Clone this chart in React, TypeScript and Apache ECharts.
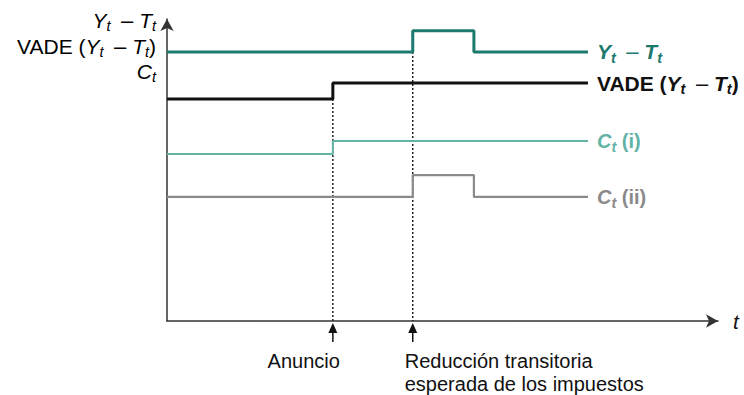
import React, { useEffect, useRef } from 'react';
import * as echarts from 'echarts';

const FONT = '"Liberation Sans", Arial, Helvetica, sans-serif';

// Time of events (x, 0..100)
const announceTime = 30.1;
const cutStartTime = 44.6;
const cutEndTime = 55.7;
const lastTime = 76.4;

// Levels (y, 0..100)
const disposableX = [0, cutStartTime, cutStartTime, cutEndTime, cutEndTime, lastTime];
const disposableY = [89.1, 89.1, 96.1, 96.1, 89.1, 89.1];
const vadeX = [0, announceTime, announceTime, lastTime];
const vadeY = [73.5, 73.5, 78.8, 78.8];
const consumoIX = [0, announceTime, announceTime, lastTime];
const consumoIY = [55.3, 55.3, 59.6, 59.6];
const consumoIIX = [0, cutStartTime, cutStartTime, cutEndTime, cutEndTime, lastTime];
const consumoIIY = [41.1, 41.1, 48.3, 48.3, 41.1, 41.1];

const guideX = [announceTime, cutStartTime];
const guideTopY = [73.5, 89.1];

const eventLabels = ['Anuncio', 'Reducción transitoria\nesperada de los impuestos'];

const NB = '\u00a0';
const EN = '\u2002';

const COLORS = {
  disposable: '#1c796d',
  vade: '#111111',
  cI: '#63b3a7',
  cII: '#8a8a8a',
  axis: '#333333',
};

function rich(weight: string, color: string, size: number) {
  const n = { fontFamily: FONT, fontSize: size, fontWeight: weight, color, lineHeight: 26 };
  return {
    n,
    i: { ...n, fontStyle: 'italic' },
    m: { ...n, fontSize: size + 1, fontWeight: 'normal' },
    s: {
      fontFamily: FONT,
      fontSize: 14.5,
      fontStyle: 'italic',
      fontWeight: weight,
      color,
      lineHeight: 14,
      padding: [12, 0, 0, 0],
    },
  };
}

const MINUS = `{n|${EN}}{m|–}{n|${NB}}`;
const txtYT = `{i|Y}{s|t}${MINUS}{i|T}{s|t}`;
const txtVADE = `{n|VADE${NB}(}{i|Y}{s|t}${MINUS}{i|T}{s|t}{n|)}`;
const txtC = `{i|C}{s|t}`;

function pairs(xs: number[], ys: number[]) {
  return xs.map((x, k) => [x, ys[k]]);
}

function stepSeries(
  xs: number[],
  ys: number[],
  color: string,
  width: number,
  label: string,
  size: number
) {
  return {
    type: 'line',
    data: pairs(xs, ys),
    showSymbol: false,
    symbol: 'none',
    silent: true,
    z: 5,
    lineStyle: { color, width },
    endLabel: {
      show: true,
      distance: 9,
      formatter: () => label,
      rich: rich('bold', color, size),
    },
  };
}

export default function App() {
  const ref = useRef<HTMLDivElement>(null);
  useEffect(() => {
    const chart = echarts.init(ref.current!, null, { renderer: 'svg' });
    const axisCommon = {
      type: 'value',
      min: 0,
      max: 100,
      axisLine: {
        show: true,
        symbol: ['none', 'arrow'],
        symbolSize: [10, 12],
        lineStyle: { color: COLORS.axis, width: 1.5 },
      },
      axisTick: { show: false },
      axisLabel: { show: false },
      splitLine: { show: false },
    };
    const guideSeries = guideX.map((x, k) => ({
      type: 'line',
      data: [
        [x, guideTopY[k]],
        [x, 0],
      ],
      showSymbol: false,
      symbol: 'none',
      silent: true,
      z: 2,
      lineStyle: { color: '#222', width: 1.5, type: [2, 2] },
    }));
    chart.setOption({
      animation: false,
      grid: { left: 167, right: 26, top: 19, bottom: 74 },
      xAxis: {
        ...axisCommon,
        name: 't',
        nameLocation: 'end',
        nameGap: 15,
        nameTextStyle: { fontFamily: FONT, fontSize: 21, fontStyle: 'italic', color: '#111' },
      },
      yAxis: { ...axisCommon },
      series: [
        ...guideSeries,
        stepSeries(disposableX, disposableY, COLORS.disposable, 3, txtYT, 21),
        stepSeries(vadeX, vadeY, COLORS.vade, 3, txtVADE, 21),
        stepSeries(consumoIX, consumoIY, COLORS.cI, 2, `${txtC}{n|${NB}(i)}`, 20),
        stepSeries(consumoIIX, consumoIIY, COLORS.cII, 2.2, `${txtC}{n|${NB}(ii)}`, 20),
      ],
    });

    const axisY = (chart.convertToPixel({ gridIndex: 0 } as any, [0, 0]) as number[])[1];
    const graphics: any[] = [];
    const leftRich = rich('normal', '#111', 21);
    const leftTexts = [txtYT, txtVADE, txtC];
    const leftY = [20, 46, 71];
    leftTexts.forEach((t, k) => {
      graphics.push({
        type: 'text',
        x: 156,
        y: leftY[k],
        silent: true,
        style: { text: t, rich: leftRich, align: 'right', verticalAlign: 'middle' },
      });
    });
    guideX.forEach((gx, k) => {
      const x = (chart.convertToPixel({ gridIndex: 0 } as any, [gx, 0]) as number[])[0];
      graphics.push({
        type: 'polygon',
        silent: true,
        shape: { points: [[x, axisY + 2], [x - 4.5, axisY + 12], [x + 4.5, axisY + 12]] },
        style: { fill: '#111' },
      });
      graphics.push({
        type: 'line',
        silent: true,
        shape: { x1: x, y1: axisY + 10, x2: x, y2: axisY + 21 },
        style: { stroke: '#111', lineWidth: 1.5 },
      });
      graphics.push({
        type: 'text',
        silent: true,
        x: k === 0 ? x + 7 : x - 8,
        y: axisY + 28,
        style: {
          text: eventLabels[k],
          font: `20px ${FONT}`,
          fill: '#111',
          align: k === 0 ? 'right' : 'left',
          verticalAlign: 'top',
          lineHeight: 23,
        },
      });
    });
    chart.setOption({ graphic: graphics });
    return () => chart.dispose();
  }, []);
  return (
    <div
      ref={ref}
      style={{ position: 'fixed', left: 0, top: 0, width: 744, height: 395, background: '#fff' }}
    />
  );
}
